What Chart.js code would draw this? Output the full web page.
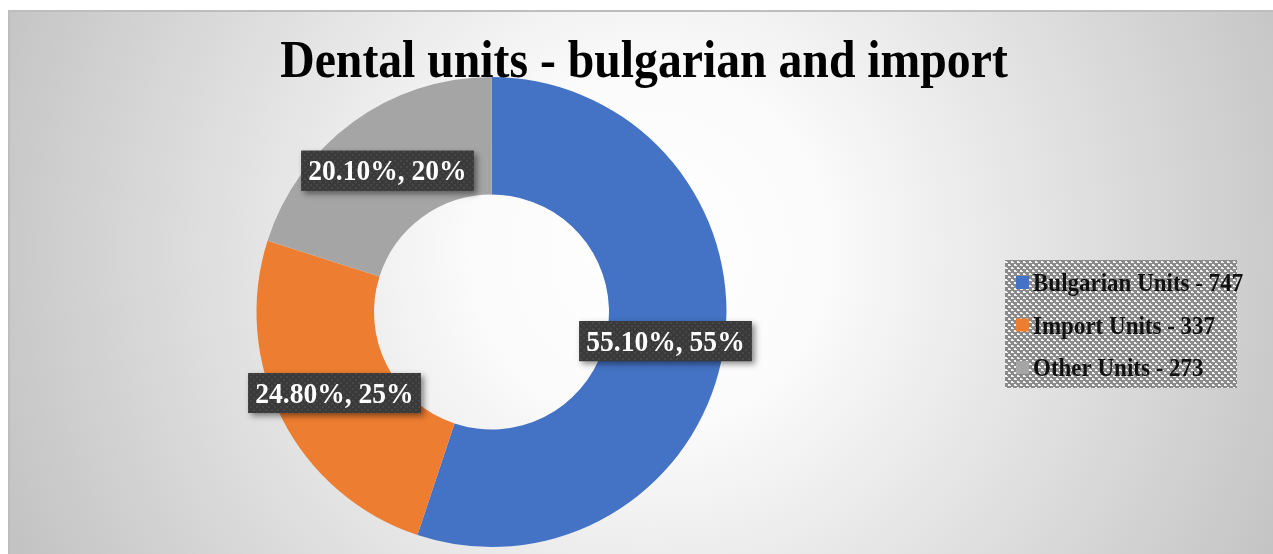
<!DOCTYPE html>
<html>
<head>
<meta charset="utf-8">
<script src="https://cdn.jsdelivr.net/npm/chart.js@4.4.1/dist/chart.umd.min.js"></script>
<style>
html,body{margin:0;padding:0;background:#fff;}
canvas{display:block;}
</style>
</head>
<body>
<canvas id="c" width="1273" height="554"></canvas>
<script>
const chartTitle = 'Dental units - bulgarian and import';
const categories = ['Bulgarian Units', 'Import Units', 'Other Units'];
const unitCounts = [747, 337, 273];
const sharePercents = [55.10, 24.80, 20.10];
const roundedPercents = [55, 25, 20];
const sliceColors = ['#4472C4', '#ED7D31', '#A5A5A5'];

const SERIF = '"Liberation Serif", "Times New Roman", "DejaVu Serif", serif';

function makePattern(ctx, bg, fg, size, cells) {
  const p = document.createElement('canvas');
  p.width = size; p.height = size;
  const c = p.getContext('2d');
  c.fillStyle = bg; c.fillRect(0, 0, size, size);
  c.fillStyle = fg;
  cells.forEach(([x, y, w, h]) => c.fillRect(x, y, w, h));
  return ctx.createPattern(p, 'repeat');
}

function scaledText(ctx, txt, x, y, sx) {
  ctx.save();
  ctx.translate(x, y);
  ctx.scale(sx, 1);
  ctx.fillText(txt, 0, 0);
  ctx.restore();
}

const decorPlugin = {
  id: 'decor',
  beforeDraw(chart) {
    const ctx = chart.ctx;
    const W = chart.width, H = chart.height;
    ctx.save();
    ctx.fillStyle = '#ffffff';
    ctx.fillRect(0, 0, W, H);
    const g = ctx.createRadialGradient(650, 250, 0, 650, 250, 700);
    g.addColorStop(0, '#ffffff');
    g.addColorStop(0.25, '#fbfbfb');
    g.addColorStop(1, '#c3c3c3');
    ctx.fillStyle = g;
    ctx.fillRect(8, 10, W - 8, H - 10);
    ctx.fillStyle = '#bdbdbd';
    ctx.fillRect(8, 10, W - 8, 2);
    ctx.fillRect(8, 10, 2, H - 10);
    ctx.restore();
  },
  afterDatasetsDraw(chart) {
    const ctx = chart.ctx;
    const meta = chart.getDatasetMeta(0);
    const pat = makePattern(ctx, '#3a3a3a', '#474747', 6, [[1, 1, 2, 2], [4, 4, 2, 2]]);
    ctx.save();
    ctx.font = 'bold 29px ' + SERIF;
    ctx.textAlign = 'center';
    ctx.textBaseline = 'middle';
    const sx = 0.95;
    meta.data.forEach((arc, i) => {
      const pos = arc.tooltipPosition();
      const txt = sharePercents[i].toFixed(2) + '%, ' + roundedPercents[i] + '%';
      const tw = ctx.measureText(txt).width * sx;
      const bw = tw + 14, bh = 40;
      const bx = pos.x - bw / 2, by = pos.y - bh / 2 + 1;
      ctx.save();
      ctx.shadowColor = 'rgba(0,0,0,0.45)';
      ctx.shadowBlur = 6;
      ctx.shadowOffsetX = 3;
      ctx.shadowOffsetY = 3;
      ctx.fillStyle = '#3a3a3a';
      ctx.fillRect(bx, by, bw, bh);
      ctx.restore();
      ctx.fillStyle = pat;
      ctx.fillRect(bx, by, bw, bh);
      ctx.fillStyle = '#ffffff';
      scaledText(ctx, txt, pos.x, pos.y + 3, sx);
    });
    ctx.restore();
  },
  afterDraw(chart) {
    const ctx = chart.ctx;
    ctx.save();
    // title
    ctx.font = 'bold 53px ' + SERIF;
    ctx.textAlign = 'center';
    ctx.textBaseline = 'alphabetic';
    ctx.fillStyle = '#000000';
    scaledText(ctx, chartTitle, 644, 77, 0.9);
    // legend
    const lx = 1005, ly = 260, lw = 232, lh = 128;
    const lpat = makePattern(ctx, '#8a8a8a', '#f4f4f4', 6,
      [[0, 0, 2, 2], [3, 3, 2, 2], [2, 1, 1, 1], [5, 4, 1, 1]]);
    ctx.fillStyle = lpat;
    ctx.fillRect(lx, ly, lw, lh);
    ctx.font = 'bold 25px ' + SERIF;
    ctx.textAlign = 'left';
    ctx.textBaseline = 'middle';
    categories.forEach((cat, i) => {
      const cy = 283 + i * 42.5;
      ctx.fillStyle = sliceColors[i];
      ctx.fillRect(1016, cy - 7, 13, 13);
      ctx.fillStyle = '#111111';
      scaledText(ctx, cat + ' - ' + unitCounts[i], 1033, cy + 2, 0.92);
    });
    ctx.restore();
  }
};

new Chart(document.getElementById('c'), {
  type: 'doughnut',
  data: {
    labels: categories,
    datasets: [{
      data: sharePercents,
      backgroundColor: sliceColors,
      borderWidth: 0
    }]
  },
  options: {
    responsive: false,
    animation: false,
    cutout: '50%',
    layout: { padding: { left: 256, right: 546, top: 77, bottom: 7 } },
    plugins: {
      legend: { display: false },
      title: { display: false },
      tooltip: { enabled: false }
    }
  },
  plugins: [decorPlugin]
});
</script>
</body>
</html>
